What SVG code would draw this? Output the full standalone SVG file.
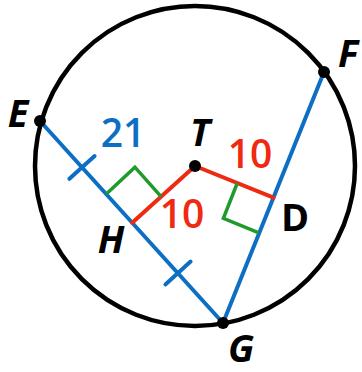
<svg xmlns="http://www.w3.org/2000/svg" width="362" height="372" viewBox="0 0 362 372">
<style>
.lbl{font-family:"Open Sans","Liberation Sans",sans-serif;font-weight:700;font-style:italic;font-size:38px;fill:#000;text-anchor:middle}
.up{font-style:normal}
.num{font-family:"Open Sans","Liberation Sans",sans-serif;font-weight:600;font-size:39px;text-anchor:middle}
.blue{stroke:#0d6fc4;stroke-width:4;fill:none;stroke-linecap:round}
.red{stroke:#ee2a12;stroke-width:4;fill:none;stroke-linecap:round}
.green{stroke:#1f9a2c;stroke-width:3.5;fill:none;stroke-linejoin:miter}
.dot{fill:#000}
</style>
<rect width="362" height="372" fill="#fff"/>
<circle id="circle" cx="195" cy="166" r="160" fill="none" stroke="#000" stroke-width="4.5"/>
<g id="connectors">
  <line class="blue" x1="40" y1="121" x2="223" y2="323"/>
  <line class="blue" x1="324" y1="72" x2="223" y2="323"/>
  <line class="blue" x1="69.4" y1="178.8" x2="94.6" y2="156"/>
  <line class="blue" x1="165.4" y1="284.4" x2="190.6" y2="261.6"/>
  <line class="red" x1="132.2" y1="222.8" x2="195" y2="166"/>
  <line class="red" x1="195" y1="166" x2="273.5" y2="197.6"/>
  <polyline class="green" points="106.3,194.1 134.9,167.2 161.1,196.7"/>
  <polyline class="green" points="237.3,183 223.4,218.3 258.9,232.9"/>
</g>
<g id="E"><circle class="dot" cx="40" cy="121" r="6"/><text class="lbl" x="18" y="127">E</text></g>
<g id="F"><circle class="dot" cx="324" cy="72" r="6"/><text class="lbl" x="348" y="67">F</text></g>
<g id="G"><circle class="dot" cx="223" cy="323" r="6"/><text class="lbl" x="241" y="362">G</text></g>
<g id="T"><circle class="dot" cx="195" cy="166" r="6"/><text class="lbl" x="200" y="146">T</text></g>
<g id="H"><text class="lbl" x="111" y="253">H</text></g>
<g id="D"><text class="lbl up" x="295" y="231">D</text></g>
<g id="labels">
  <text class="num" x="123" y="147" fill="#0d6fc4">21</text>
  <text class="num" x="182" y="228" fill="#ee2a12">10</text>
  <text class="num" x="250" y="168" fill="#ee2a12">10</text>
</g>
</svg>
